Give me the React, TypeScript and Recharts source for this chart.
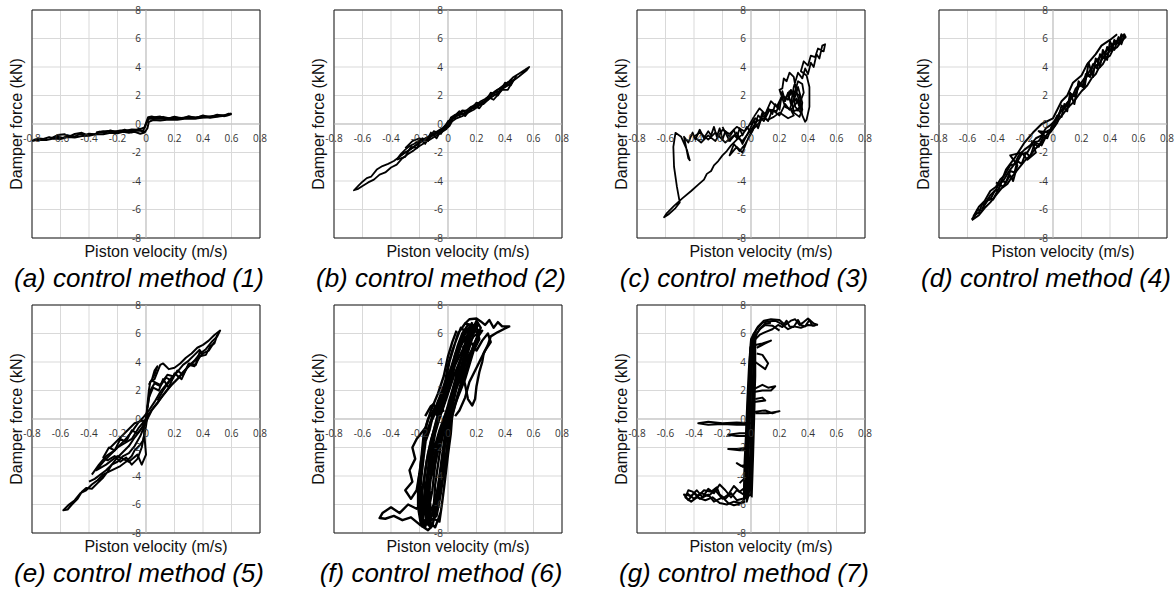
import React from 'react';
import { LineChart, Line, XAxis, YAxis, CartesianGrid, ReferenceLine, ReferenceArea } from 'recharts';

type Pt = [number, number];

// tick labels
const V_TICKS = [-0.8, -0.6, -0.4, -0.2, 0, 0.2, 0.4, 0.6, 0.8];
const F_TICKS = [-8, -6, -4, -2, 0, 2, 4, 6, 8];

// piston velocity (m/s), damper force (kN) traces
const methodA: Pt[][] = [
  [[-0.79, -1.12], [-0.75, -1.02], [-0.72, -1.05], [-0.68, -0.92], [-0.65, -1.0], [-0.62, -0.9], [-0.58, -0.98], [-0.55, -0.8], [-0.5, -0.88], [-0.47, -0.72], [-0.43, -0.78], [-0.4, -0.68], [-0.36, -0.72], [-0.33, -0.55], [-0.3, -0.6], [-0.27, -0.5], [-0.22, -0.55], [-0.18, -0.45], [-0.14, -0.48], [-0.1, -0.38], [-0.06, -0.4], [-0.03, -0.32], [-0.01, -0.25], [0.005, 0.2], [0.015, 0.48], [0.04, 0.52], [0.08, 0.42], [0.12, 0.5], [0.16, 0.4], [0.2, 0.48], [0.25, 0.42], [0.3, 0.5], [0.35, 0.46], [0.4, 0.55], [0.45, 0.52], [0.5, 0.62], [0.55, 0.6], [0.58, 0.72], [0.6, 0.7]],
  [[0.6, 0.7], [0.57, 0.6], [0.52, 0.55], [0.46, 0.45], [0.4, 0.45], [0.34, 0.36], [0.28, 0.38], [0.22, 0.3], [0.16, 0.32], [0.1, 0.25], [0.05, 0.28], [0.02, 0.15], [0.01, -0.3], [-0.01, -0.6], [-0.04, -0.68], [-0.08, -0.55], [-0.12, -0.62], [-0.16, -0.55], [-0.2, -0.65], [-0.25, -0.62], [-0.3, -0.72], [-0.35, -0.7], [-0.4, -0.82], [-0.45, -0.85], [-0.5, -0.95], [-0.55, -0.92], [-0.6, -1.05], [-0.65, -1.02], [-0.7, -1.12], [-0.75, -1.1], [-0.8, -1.18]],
  [[-0.35, -0.6], [-0.3, -0.5], [-0.2, -0.52], [-0.1, -0.45], [-0.02, -0.48], [0.0, 0.0], [0.02, 0.38], [0.1, 0.36], [0.2, 0.4], [0.3, 0.42], [0.4, 0.48], [0.5, 0.55], [0.58, 0.65]],
  [[-0.66, -0.98], [-0.62, -0.78], [-0.57, -0.72], [-0.54, -0.88], [-0.5, -0.7], [-0.45, -0.62], [-0.42, -0.75]],
  [[0.02, 0.42], [0.1, 0.52], [0.15, 0.36], [0.2, 0.52], [0.25, 0.36], [0.3, 0.55], [0.35, 0.4], [0.4, 0.6], [0.45, 0.45], [0.5, 0.65], [0.55, 0.55], [0.6, 0.75]],
  [[-0.3, -0.65], [-0.25, -0.45], [-0.2, -0.6], [-0.15, -0.4], [-0.1, -0.58], [-0.05, -0.35], [-0.02, -0.58], [0.0, -0.5]],
];

const methodB: Pt[][] = [
  [[0, 0], [0.02, 0.45], [0.05, 0.65], [0.08, 0.6], [0.1, 0.85], [0.13, 0.95], [0.16, 1.2], [0.2, 1.35], [0.23, 1.6], [0.26, 1.75], [0.3, 2.05], [0.33, 2.3], [0.36, 2.5], [0.4, 2.8], [0.43, 3.0], [0.46, 3.3], [0.5, 3.55], [0.54, 3.8], [0.57, 4.0], [0.55, 3.75], [0.5, 3.35], [0.46, 3.05], [0.42, 2.7], [0.38, 2.45], [0.34, 2.1], [0.3, 1.85], [0.26, 1.5], [0.22, 1.3], [0.18, 1.0], [0.14, 0.8], [0.1, 0.55], [0.06, 0.4], [0.03, 0.2], [0.01, -0.15], [-0.02, -0.4], [-0.06, -0.55], [-0.1, -0.75], [-0.14, -0.95], [-0.18, -1.2], [-0.22, -1.45], [-0.26, -1.75], [-0.3, -2.0], [-0.34, -2.3], [-0.38, -2.6], [-0.42, -2.8], [-0.46, -2.95], [-0.5, -3.2], [-0.54, -3.7], [-0.57, -3.8], [-0.6, -4.05], [-0.63, -4.35], [-0.66, -4.65], [-0.63, -4.55], [-0.6, -4.35], [-0.56, -4.1], [-0.52, -3.9], [-0.48, -3.55], [-0.44, -3.4], [-0.4, -3.05], [-0.36, -2.85], [-0.32, -2.4], [-0.28, -2.1], [-0.24, -1.85], [-0.2, -1.55], [-0.16, -1.3], [-0.12, -1.05], [-0.08, -0.8], [-0.04, -0.55], [-0.01, -0.35], [0.01, 0.1], [0.04, 0.5]],
  [[0.04, 0.5], [0.08, 0.75], [0.12, 0.7], [0.16, 1.05], [0.2, 1.2], [0.24, 1.55], [0.28, 1.7], [0.32, 2.15], [0.36, 2.3], [0.4, 2.65], [0.44, 2.85], [0.46, 3.1], [0.42, 2.9], [0.38, 2.55], [0.34, 2.35], [0.3, 1.95], [0.26, 1.65], [0.22, 1.4], [0.18, 1.15], [0.14, 0.9], [0.1, 0.7], [0.06, 0.55], [0.02, 0.3], [0, -0.2], [-0.04, -0.45], [-0.08, -0.65], [-0.12, -0.9], [-0.16, -1.1], [-0.2, -1.3], [-0.24, -1.6], [-0.28, -1.9], [-0.32, -2.1], [-0.35, -2.35], [-0.33, -2.1], [-0.3, -1.8], [-0.27, -1.55], [-0.24, -1.4], [-0.2, -1.15], [-0.16, -1.0], [-0.12, -0.8], [-0.08, -0.55], [-0.05, -0.35], [-0.02, -0.3], [0, 0]],
  [[-0.3, -1.7], [-0.25, -1.2], [-0.2, -1.0], [-0.16, -1.4], [-0.12, -0.6], [-0.08, -1.0], [-0.04, -0.3], [0.02, 0.3], [0.08, 0.9], [0.12, 0.55], [0.18, 1.3], [0.22, 1.1], [0.28, 1.9], [0.32, 1.7], [0.38, 2.4], [0.42, 2.4], [0.45, 2.95]],
  [[-0.36, -2.5], [-0.3, -2.3], [-0.26, -1.6], [-0.22, -1.7], [-0.18, -1.0], [-0.14, -1.2], [-0.1, -0.5], [-0.05, -0.7], [0.0, 0.2], [0.05, 0.45], [0.1, 0.95], [0.15, 0.9], [0.2, 1.5], [0.25, 1.4], [0.3, 2.2], [0.35, 2.0], [0.4, 2.9], [0.44, 2.7], [0.48, 3.4]],
];

const methodC: Pt[][] = [
  [[0, -0.1], [0.03, 0.4], [0.06, 0.2], [0.08, 0.8], [0.1, 0.5], [0.12, 1.1], [0.15, 0.7], [0.17, 1.4], [0.2, 1.0], [0.22, 2.3], [0.24, 1.6], [0.26, 2.2], [0.28, 1.4], [0.3, 2.6], [0.33, 3.6], [0.36, 3.2], [0.38, 3.9], [0.4, 3.5], [0.42, 4.3], [0.44, 4.0], [0.46, 4.9], [0.48, 4.6], [0.5, 5.5], [0.52, 5.6], [0.51, 5.1], [0.47, 5.3], [0.45, 4.7], [0.42, 4.8], [0.4, 4.1], [0.37, 4.4], [0.35, 3.7], [0.39, 3.4], [0.41, 2.6], [0.41, 1.2], [0.39, 0.3], [0.38, 0.15], [0.36, 0.6], [0.34, 1.6], [0.32, 2.2], [0.3, 3.3], [0.27, 3.6], [0.25, 3.0], [0.23, 3.2], [0.22, 2.5], [0.2, 2.4], [0.24, 1.2], [0.3, 0.9], [0.35, 1.1], [0.33, 1.6], [0.28, 1.0], [0.3, 0.6], [0.26, 0.4], [0.2, 0.8], [0.16, 0.5], [0.12, 0.3], [0.08, 0.4], [0.05, 0.0], [0.02, -0.3], [0, -0.6], [-0.03, -0.2], [-0.06, -0.8], [-0.08, -0.3], [-0.1, -1.0], [-0.12, -0.4], [-0.15, -0.9], [-0.18, -0.5], [-0.2, -1.1], [-0.22, -0.3], [-0.24, -0.9], [-0.26, -0.2], [-0.28, -0.8], [-0.3, -0.5], [-0.33, -1.0], [-0.36, -0.4], [-0.39, -1.1], [-0.41, -0.6], [-0.44, -1.3], [-0.47, -0.9], [-0.44, -2.4], [-0.43, -2.55], [-0.45, -1.8], [-0.49, -0.9], [-0.53, -0.62], [-0.545, -1.6], [-0.54, -3.0], [-0.52, -4.4], [-0.5, -5.5], [-0.53, -5.9], [-0.58, -6.35], [-0.61, -6.55], [-0.59, -6.25], [-0.54, -5.75], [-0.48, -5.2], [-0.42, -4.7], [-0.37, -4.25], [-0.33, -3.9], [-0.31, -3.5], [-0.28, -3.3], [-0.26, -2.9], [-0.23, -2.6], [-0.2, -2.2], [-0.17, -1.9], [-0.14, -1.5], [-0.11, -1.2], [-0.08, -0.9], [-0.05, -0.6], [-0.02, -0.2], [0.02, 0.5]],
  [[0.02, 0.5], [0.06, 1.1], [0.1, 0.7], [0.14, 1.6], [0.18, 1.2], [0.22, 2.0], [0.26, 1.7], [0.28, 2.4], [0.31, 1.9], [0.33, 2.6], [0.36, 1.5], [0.35, 0.8], [0.31, 1.2], [0.3, 2.0], [0.27, 2.3], [0.25, 1.9], [0.21, 1.8], [0.18, 0.9], [0.13, 1.0], [0.09, 0.2], [0.05, 0.6], [0.01, -0.5], [-0.04, -1.4], [-0.08, -1.9], [-0.12, -1.4], [-0.15, -2.2], [-0.1, -1.6], [-0.06, -2.0], [-0.02, -1.0], [0.02, -0.2]],
  [[-0.05, -0.5], [-0.1, -0.2], [-0.15, -0.7], [-0.2, -0.4], [-0.25, -1.2], [-0.3, -0.8], [-0.35, -1.3], [-0.4, -0.9], [-0.36, -0.6], [-0.3, -1.1], [-0.25, -0.6], [-0.18, -1.3], [-0.12, -0.8], [-0.06, -1.2], [0.0, -0.4], [0.05, 0.3]],
  [[-0.2, -0.2], [-0.15, -1.2], [-0.1, -0.6], [-0.06, -1.4], [-0.02, -0.6], [0.02, 0.2], [0.05, -0.3], [0.08, 0.6], [0.12, 0.2], [0.15, 1.0], [0.2, 0.6], [0.24, 1.4], [0.27, 1.0], [0.3, 1.8], [0.34, 1.4], [0.37, 2.2], [0.36, 2.8], [0.33, 3.0], [0.3, 2.0]],
  [[0.26, 1.9], [0.3, 2.3], [0.34, 2.0], [0.36, 1.0], [0.34, 0.5], [0.3, 0.8], [0.29, 1.5], [0.32, 1.8], [0.34, 1.2], [0.32, 0.9]],
];

const methodD: Pt[][] = [
  [[-0.57, -6.7], [-0.55, -6.4], [-0.52, -6.2], [-0.5, -5.7], [-0.47, -5.5], [-0.44, -5.0], [-0.4, -4.6], [-0.38, -4.2], [-0.35, -4.0], [-0.32, -3.5], [-0.3, -3.2], [-0.27, -2.8], [-0.24, -2.2], [-0.2, -1.8], [-0.16, -1.5], [-0.12, -1.0], [-0.08, -0.8], [-0.05, -0.3], [-0.02, -0.1], [0.02, 0.3], [0.05, 0.8], [0.08, 1.2], [0.1, 1.5], [0.13, 1.8], [0.16, 2.5], [0.2, 2.9], [0.22, 3.2], [0.25, 3.6], [0.28, 4.1], [0.3, 4.4], [0.33, 4.7], [0.36, 5.0], [0.4, 5.4], [0.43, 5.7], [0.46, 5.9], [0.5, 6.3], [0.51, 6.1], [0.48, 5.8], [0.45, 5.4], [0.42, 5.2], [0.4, 4.8], [0.37, 4.6], [0.35, 4.2], [0.32, 3.9], [0.3, 3.5], [0.27, 3.2], [0.24, 2.7], [0.2, 2.3], [0.17, 1.9], [0.14, 1.5], [0.1, 1.1], [0.07, 0.7], [0.04, 0.3], [0.0, -0.3], [-0.04, -0.7], [-0.08, -1.3], [-0.12, -1.7], [-0.16, -2.2], [-0.2, -2.6], [-0.24, -3.1], [-0.28, -3.6], [-0.32, -4.2], [-0.36, -4.5], [-0.4, -5.0], [-0.44, -5.5], [-0.48, -5.9], [-0.52, -6.4], [-0.57, -6.75]],
  [[-0.4, -4.1], [-0.35, -4.4], [-0.3, -3.6], [-0.28, -4.0], [-0.25, -2.9], [-0.3, -2.2], [-0.22, -2.0], [-0.18, -2.5], [-0.12, -2.0], [-0.15, -1.2], [-0.08, -1.5], [-0.05, -0.9], [-0.1, -0.5], [-0.02, -0.6], [0.03, 0.1], [0.06, 1.3], [0.1, 0.9], [0.12, 2.2], [0.15, 1.4], [0.18, 3.0], [0.22, 2.5], [0.25, 4.3], [0.28, 3.3], [0.3, 4.6], [0.33, 4.0], [0.35, 5.2], [0.38, 4.5], [0.4, 5.8], [0.43, 5.2], [0.46, 6.1], [0.48, 5.6], [0.5, 6.2]],
  [[-0.5, -6.0], [-0.45, -5.2], [-0.42, -5.3], [-0.38, -4.5], [-0.33, -3.2], [-0.27, -2.4], [-0.2, -1.3], [-0.14, -0.6], [-0.08, 0.0], [0.0, 0.4], [0.06, 1.6], [0.1, 2.0], [0.14, 2.9], [0.2, 3.4], [0.24, 4.2], [0.3, 4.9], [0.34, 5.5], [0.4, 5.9], [0.45, 6.3]],
  [[-0.55, -6.5], [-0.53, -6.0], [-0.5, -6.1], [-0.47, -5.4], [-0.44, -5.3], [-0.41, -4.7], [-0.38, -4.6], [-0.36, -4.0], [-0.33, -4.1], [-0.3, -3.3], [-0.27, -3.4], [-0.25, -2.6], [-0.22, -2.8], [-0.19, -2.0], [-0.16, -2.3], [-0.13, -1.4], [-0.1, -1.6], [-0.07, -0.9], [-0.04, -1.0], [-0.01, -0.2], [0.03, 0.6], [0.06, 0.5], [0.08, 1.4], [0.11, 1.2], [0.13, 2.1], [0.16, 1.9], [0.18, 2.8], [0.21, 2.6], [0.23, 3.5], [0.26, 3.3], [0.28, 4.2], [0.31, 3.9], [0.33, 4.9], [0.36, 4.6], [0.38, 5.4], [0.41, 5.1], [0.43, 5.9], [0.46, 5.6], [0.48, 6.3], [0.5, 6.0]],
  [[0.49, 6.0], [0.45, 5.8], [0.42, 5.5], [0.39, 5.0], [0.36, 4.8], [0.33, 4.3], [0.3, 4.1], [0.27, 3.5], [0.24, 3.4], [0.21, 2.8], [0.18, 2.6], [0.15, 2.0], [0.12, 1.8], [0.09, 1.2], [0.05, 0.9], [0.02, 0.2], [-0.02, -0.4], [-0.06, -0.6], [-0.1, -1.2], [-0.14, -1.3], [-0.18, -2.0], [-0.22, -2.1], [-0.26, -2.8], [-0.3, -2.9], [-0.34, -3.6], [-0.37, -3.9], [-0.4, -4.4], [-0.44, -4.7], [-0.48, -5.4], [-0.52, -5.8], [-0.56, -6.5]],
];

const methodE: Pt[][] = [
  [[0, 0], [0.01, 1.0], [0.02, 2.0], [0.03, 2.6], [0.06, 2.8], [0.08, 3.3], [0.1, 3.8], [0.12, 3.9], [0.14, 3.7], [0.16, 3.5], [0.2, 3.6], [0.24, 3.9], [0.28, 4.3], [0.32, 4.6], [0.36, 5.0], [0.4, 5.2], [0.44, 5.5], [0.48, 5.9], [0.52, 6.2], [0.5, 5.8], [0.46, 5.4], [0.42, 4.9], [0.38, 4.6], [0.34, 4.1], [0.3, 3.7], [0.26, 3.3], [0.22, 2.8], [0.18, 2.4], [0.14, 1.9], [0.1, 1.4], [0.06, 0.9], [0.03, 0.5], [0.01, 0.2], [0, -0.5], [-0.01, -1.0], [-0.02, -1.5], [-0.04, -1.8], [-0.08, -2.2], [-0.1, -2.6], [-0.14, -3.0], [-0.18, -3.3], [-0.22, -3.5], [-0.26, -3.7], [-0.3, -3.9], [-0.34, -4.3], [-0.38, -4.6], [-0.42, -5.0], [-0.46, -5.2], [-0.5, -5.7], [-0.54, -6.0], [-0.58, -6.4], [-0.55, -6.35], [-0.52, -6.0], [-0.48, -5.6], [-0.45, -5.1], [-0.42, -4.85], [-0.38, -4.9], [-0.34, -4.5], [-0.3, -4.1], [-0.27, -3.7], [-0.24, -3.2], [-0.2, -2.7], [-0.16, -2.3], [-0.12, -1.9], [-0.08, -1.3], [-0.04, -0.8], [-0.01, -0.3], [0.01, 0.5]],
  [[-0.25, -2.0], [-0.15, -1.0], [-0.08, -0.3], [-0.02, -0.1], [0.0, -2.5], [-0.03, -3.2], [-0.06, -2.5], [-0.12, -3.0], [-0.2, -2.6], [-0.28, -3.2], [-0.35, -3.6], [-0.3, -3.0], [-0.2, -2.0], [-0.1, -1.4], [-0.05, -0.6], [0, 0], [0.02, 1.5], [0.05, 2.2], [0.09, 2.0], [0.12, 2.8], [0.16, 2.2], [0.2, 3.2], [0.25, 2.8], [0.3, 3.9], [0.35, 3.8], [0.38, 4.8], [0.4, 4.5]],
  [[-0.38, -3.9], [-0.33, -3.2], [-0.28, -2.6], [-0.22, -2.2], [-0.16, -1.6], [-0.1, -0.9], [-0.05, -0.2], [-0.02, 0.1], [0.02, 0.6], [0.06, 1.2], [0.1, 1.9], [0.14, 2.4], [0.18, 2.9], [0.22, 3.3], [0.26, 3.8], [0.3, 4.1], [0.34, 4.5], [0.38, 4.9]],
  [[0.02, 2.4], [0.06, 3.1], [0.08, 3.7], [0.06, 3.4], [0.04, 2.7], [0.1, 2.4], [0.15, 3.1], [0.19, 3.0], [0.12, 2.0], [0.08, 1.3]],
  [[0.01, 0.8], [0.03, 2.0], [0.06, 2.5], [0.1, 2.3], [0.14, 2.9], [0.18, 2.7], [0.22, 3.4], [0.26, 3.1], [0.3, 3.8], [0.34, 3.7], [0.38, 4.4], [0.42, 4.5], [0.45, 5.1], [0.48, 5.3], [0.5, 5.9]],
  [[0.48, 5.4], [0.44, 4.8], [0.4, 4.6], [0.36, 4.2], [0.32, 3.9], [0.28, 3.5], [0.24, 3.0], [0.2, 2.6], [0.16, 2.2], [0.12, 1.7], [0.08, 1.1], [0.04, 0.6], [0.0, -0.2], [-0.04, -1.2], [-0.08, -1.9], [-0.12, -2.4], [-0.16, -2.6], [-0.2, -3.0], [-0.24, -3.2], [-0.28, -3.6], [-0.32, -3.9], [-0.36, -4.2], [-0.4, -4.4]],
  [[-0.02, -0.5], [-0.06, -1.0], [-0.1, -0.8], [-0.14, -1.6], [-0.18, -1.4], [-0.22, -2.2], [-0.26, -2.0], [-0.3, -2.7], [-0.27, -2.9], [-0.22, -2.6], [-0.18, -3.0], [-0.14, -2.7], [-0.1, -3.2], [-0.06, -2.8], [-0.03, -2.0], [-0.01, -1.0]],
];

const methodF: Pt[][] = [
  [[-0.17, -7.5], [-0.2, -6.5], [-0.21, -5], [-0.19, -3], [-0.17, -1], [-0.14, 0], [-0.08, 1], [-0.04, 2], [-0.01, 3], [0.01, 4], [0.04, 5], [0.07, 6], [0.12, 6.7], [0.2, 6.5], [0.22, 5.6], [0.18, 4.8], [0.15, 3.8], [0.12, 2.8], [0.08, 1.8], [0.04, 0.8], [0.02, -0.2], [0.0, -1.5], [-0.01, -3], [-0.03, -5], [-0.05, -6.5], [-0.09, -7.6], [-0.13, -7.2], [-0.15, -6], [-0.17, -4.5], [-0.15, -3], [-0.12, -1.5], [-0.09, -0.5], [-0.05, 0.8], [-0.02, 2], [0.02, 3.2], [0.05, 4.5], [0.1, 5.8], [0.16, 6.6], [0.22, 6.2], [0.19, 5.2], [0.13, 4.2], [0.1, 3.2], [0.06, 2.2], [0.01, 1], [-0.03, 0], [-0.06, -1.5], [-0.09, -3.2], [-0.11, -5], [-0.14, -6.6], [-0.16, -7.6], [-0.19, -7], [-0.18, -5.5], [-0.2, -4], [-0.18, -2.2], [-0.13, -0.8], [-0.1, 0.5], [-0.06, 1.5], [-0.02, 2.6], [0.0, 3.8], [0.03, 4.8], [0.06, 5.6], [0.09, 6.4], [0.14, 6.0], [0.12, 5.0], [0.08, 4.0], [0.04, 3.0], [0.0, 1.8], [-0.04, 0.6], [-0.09, -0.6], [-0.12, -2.0], [-0.14, -3.8], [-0.16, -5.5], [-0.18, -7.2], [-0.11, -7.5], [-0.08, -6.2], [-0.06, -4.5], [-0.04, -2.8], [-0.01, -1.2], [0.02, 0.2], [0.06, 1.4], [0.09, 2.5], [0.13, 3.6], [0.16, 4.6], [0.2, 5.6], [0.24, 6.2], [0.18, 5.8], [0.14, 5.2], [0.11, 4.0], [0.07, 3.0], [0.05, 2.0], [0.02, 1.0], [0.0, 0.0], [-0.02, -1.0], [-0.04, -2.5], [-0.06, -4.0], [-0.08, -5.5], [-0.1, -7.0], [-0.06, -7.2], [-0.04, -5.8], [-0.02, -4.2], [0.0, -2.5], [0.02, -1.0], [0.03, 0.3], [0.07, 1.8], [0.11, 3.0], [0.15, 4.2], [0.18, 5.2], [0.22, 6.0], [0.16, 6.3], [0.11, 5.5], [0.06, 4.6], [0.02, 3.5], [-0.02, 2.3], [-0.06, 1.2], [-0.11, 0.2], [-0.15, -1.0], [-0.17, -2.6], [-0.19, -4.4], [-0.2, -6.0], [-0.17, -7.3], [-0.12, -6.8], [-0.13, -5.0], [-0.12, -3.5], [-0.08, -2.0], [-0.05, -0.8], [-0.01, 0.6], [0.03, 2.0], [0.07, 3.4], [0.1, 4.6], [0.13, 5.6], [0.17, 6.8]],
  [[-0.19, -7.2], [-0.16, -6.0], [-0.14, -4.8], [-0.1, -3.5], [-0.07, -2.2], [-0.04, -1.0], [0.0, 0.2], [0.04, 1.5], [0.08, 2.8], [0.12, 4.0], [0.15, 5.0], [0.18, 6.0], [0.21, 6.6], [0.17, 6.1], [0.13, 5.4], [0.09, 4.6], [0.05, 3.8], [0.01, 2.8], [-0.03, 1.8], [-0.07, 0.8], [-0.12, -0.2], [-0.16, -1.4], [-0.19, -3.0], [-0.21, -4.6], [-0.21, -6.2], [-0.19, -7.4], [-0.15, -7.0], [-0.1, -6.0], [-0.07, -4.8], [-0.05, -3.5], [-0.03, -2.0], [0.0, -0.6], [0.03, 0.8], [0.06, 2.2], [0.09, 3.6], [0.12, 4.8], [0.15, 5.8], [0.19, 6.6], [0.14, 6.6], [0.1, 6.0], [0.07, 5.2], [0.04, 4.2], [0.01, 3.2], [-0.02, 2.0], [-0.05, 1.0], [-0.08, 0.0], [-0.11, -1.2], [-0.13, -2.8], [-0.15, -4.2], [-0.17, -5.8], [-0.15, -7.4], [-0.08, -6.8], [-0.05, -5.2], [-0.03, -3.8], [-0.01, -2.2], [0.01, -0.6], [0.04, 0.6], [0.08, 2.0], [0.12, 3.3], [0.15, 4.4], [0.19, 5.4], [0.23, 6.4], [0.2, 6.9], [0.16, 6.0], [0.13, 4.9], [0.1, 3.9], [0.07, 2.8], [0.04, 1.6], [0.0, 0.4], [-0.04, -0.6], [-0.08, -1.8], [-0.11, -3.4], [-0.13, -4.8], [-0.14, -6.2], [-0.12, -7.6], [-0.2, -6.8], [-0.2, -5.2], [-0.19, -3.6], [-0.17, -1.8], [-0.15, -0.4], [-0.12, 0.6], [-0.07, 1.8], [-0.03, 3.0], [0.0, 4.4], [0.03, 5.4], [0.06, 6.2]],
  [[-0.18, -7.6], [-0.17, -6.4], [-0.18, -5.0], [-0.16, -3.6], [-0.14, -2.4], [-0.11, -1.2], [-0.07, -0.2], [-0.04, 0.9], [0.0, 2.2], [0.03, 3.4], [0.07, 4.5], [0.1, 5.4], [0.13, 6.3], [0.18, 6.4], [0.15, 5.5], [0.12, 4.5], [0.09, 3.4], [0.06, 2.4], [0.02, 1.3], [-0.02, 0.3], [-0.06, -0.8], [-0.1, -2.2], [-0.13, -3.6], [-0.15, -5.0], [-0.16, -6.6], [-0.13, -7.4], [-0.1, -6.2], [-0.09, -4.6], [-0.07, -3.2], [-0.05, -1.8], [-0.02, -0.4], [0.01, 1.2], [0.05, 2.6], [0.08, 3.8], [0.11, 4.9], [0.14, 5.9], [0.17, 6.5], [0.12, 6.0], [0.08, 5.0], [0.05, 4.0], [0.03, 2.8], [-0.01, 1.6], [-0.05, 0.4], [-0.09, -1.0], [-0.12, -2.6], [-0.14, -4.4], [-0.15, -6.0], [-0.14, -7.2], [-0.07, -6.2], [-0.05, -4.6], [-0.03, -3.0], [-0.02, -1.6], [0.01, -0.2], [0.03, 1.4], [0.06, 3.0], [0.09, 4.2], [0.13, 5.2], [0.17, 6.2], [0.21, 6.8]],
  [[0.12, 6.7], [0.15, 7.0], [0.2, 7.05], [0.23, 6.85], [0.26, 6.6], [0.29, 6.95], [0.32, 6.4], [0.35, 6.8], [0.38, 6.5], [0.43, 6.5], [0.4, 6.35], [0.35, 6.1], [0.3, 5.8], [0.28, 5.2], [0.25, 4.6], [0.24, 4.0], [0.22, 3.3], [0.2, 2.3], [0.19, 1.4], [0.17, 0.95], [0.14, 1.4], [0.12, 2.4], [0.1, 3.2]],
  [[0.1, 5.0], [0.16, 5.4], [0.2, 4.8], [0.24, 5.5], [0.28, 6.0], [0.3, 5.4], [0.26, 4.8], [0.23, 4.2], [0.2, 3.6], [0.15, 2.6], [0.12, 1.5], [0.08, 0.6], [0.05, 0.2]],
  [[-0.15, -5.8], [-0.22, -6.3], [-0.28, -6.0], [-0.34, -6.6], [-0.4, -6.2], [-0.46, -6.6], [-0.48, -6.95], [-0.44, -7.0], [-0.38, -6.8], [-0.32, -7.1], [-0.26, -6.9], [-0.2, -7.4], [-0.14, -7.8], [-0.1, -7.4]],
  [[-0.15, -0.5], [-0.22, -1.4], [-0.25, -2.0], [-0.23, -2.8], [-0.27, -3.6], [-0.25, -4.4], [-0.3, -5.0], [-0.26, -5.6], [-0.22, -5.0], [-0.2, -3.8]],
  [[-0.16, 0.2], [-0.12, 0.9], [-0.1, 1.05], [-0.08, 0.3], [-0.05, 1.0], [-0.03, 0.5]],
];

const methodG: Pt[][] = [
  [[0.46, 6.6], [0.43, 6.55], [0.41, 6.95], [0.38, 6.5], [0.35, 6.6], [0.33, 6.95], [0.3, 6.45], [0.27, 6.5], [0.25, 6.9], [0.22, 6.45], [0.19, 6.6], [0.15, 6.3], [0.1, 6.1], [0.06, 5.9], [0.03, 5.6], [0.02, 4.5], [0.01, 2.0], [0.0, -1.0], [-0.01, -3.5], [-0.02, -5.0], [-0.05, -5.3], [-0.1, -5.0], [-0.14, -5.5], [-0.18, -5.0], [-0.22, -4.6], [-0.26, -5.2], [-0.3, -4.9], [-0.34, -5.5], [-0.38, -5.0], [-0.42, -5.4], [-0.47, -5.3], [-0.44, -5.7], [-0.4, -5.2], [-0.36, -5.6], [-0.3, -5.3], [-0.26, -5.8], [-0.2, -5.5], [-0.16, -5.9], [-0.12, -6.05], [-0.08, -5.95], [-0.05, -5.7], [-0.03, -4.5], [-0.02, -2.0], [-0.01, 1.0], [0.0, 4.0], [0.01, 5.6], [0.04, 6.3], [0.08, 6.75], [0.12, 6.85], [0.17, 6.9], [0.21, 6.7], [0.26, 6.3], [0.3, 6.5], [0.35, 6.4], [0.4, 6.6], [0.45, 6.55]],
  [[0.2, 6.2], [0.15, 6.55], [0.1, 6.6], [0.06, 6.3], [0.03, 5.8], [0.0, 5.5], [-0.01, 3], [-0.02, 0], [-0.03, -3], [-0.04, -4.8], [-0.08, -5.1], [-0.12, -4.7], [-0.16, -5.3], [-0.2, -5.6], [-0.25, -5.0], [-0.3, -5.4], [-0.35, -5.2], [-0.4, -5.6], [-0.45, -5.2]],
  [[-0.03, -5.6], [-0.02, -3], [-0.01, 0], [0.0, 3], [0.01, 5.5], [0.03, 5.9], [0.03, 3], [0.02, 0], [0.01, -3], [0.0, -5.3], [-0.04, -5.5], [-0.035, -2], [-0.02, 1], [-0.01, 4], [0.0, 5.6], [0.02, 6.0], [0.02, 2], [0.005, -2], [-0.01, -5.0], [-0.05, -5.7], [-0.04, -3.5], [-0.03, -0.5], [-0.015, 2.5], [0.0, 5.0], [0.015, 5.8], [0.03, 4.5], [0.025, 1], [0.015, -2.5], [0.005, -5.5]],
  [[-0.05, -5.2], [-0.045, -3.0], [-0.035, -1.0], [-0.025, 1.5], [-0.015, 3.5], [-0.005, 5.0], [0.02, 5.7], [0.025, 3.8], [0.015, 1.5], [0.005, -1.0], [-0.005, -3.5], [-0.015, -5.3], [-0.03, -5.8], [-0.025, -3.8], [-0.015, -1.5], [-0.005, 0.8], [0.005, 3.2], [0.01, 4.8], [0.04, 6.0], [0.07, 6.4], [0.1, 6.7], [0.14, 6.75]],
  [[0.0, 5.3], [0.02, 6.0], [0.05, 6.5], [0.09, 6.9], [0.14, 7.0], [0.2, 6.95], [0.24, 6.6], [0.28, 6.9], [0.31, 7.0], [0.34, 6.6], [0.37, 6.8], [0.4, 7.05], [0.44, 6.7], [0.47, 6.6]],
  [[-0.02, -5.4], [-0.06, -5.6], [-0.1, -5.7], [-0.14, -5.2], [-0.18, -5.6], [-0.22, -5.3], [-0.24, -4.8], [-0.28, -5.1], [-0.33, -5.0], [-0.37, -5.4], [-0.41, -5.1], [-0.44, -5.0], [-0.46, -5.5], [-0.42, -5.8], [-0.38, -5.5], [-0.32, -5.7], [-0.27, -5.5], [-0.22, -5.9], [-0.17, -6.0], [-0.12, -5.8], [-0.07, -5.9], [-0.04, -5.8]],
  [[0.0, -0.3], [-0.1, -0.25], [-0.2, -0.3], [-0.3, -0.2], [-0.37, -0.3], [-0.3, -0.4], [-0.2, -0.35], [-0.1, -0.4], [-0.01, -0.4]],
  [[0.02, 2.1], [0.08, 2.4], [0.12, 2.2], [0.17, 2.3], [0.14, 2.0], [0.08, 2.0], [0.02, 1.9]],
  [[0.02, 0.5], [0.1, 0.6], [0.15, 0.4], [0.2, 0.55], [0.12, 0.4], [0.03, 0.4]],
  [[0.03, 5.2], [0.08, 5.3], [0.14, 5.5], [0.1, 5.3], [0.04, 5.0]],
  [[0.03, 4.0], [0.1, 3.5], [0.12, 3.9], [0.08, 4.5], [0.04, 4.6]],
  [[0.02, 1.2], [0.1, 1.3], [0.08, 1.5], [0.03, 1.4]],
  [[-0.01, -1.0], [-0.08, -1.0], [-0.16, -1.1], [-0.1, -1.2], [-0.02, -1.2]],
  [[-0.01, -2.0], [-0.1, -2.1], [-0.16, -2.1], [-0.08, -2.2], [-0.02, -2.2]],
  [[-0.02, -3.2], [-0.07, -3.3], [-0.1, -3.1], [-0.05, -3.4]],
  [[-0.02, -4.5], [-0.05, -4.2], [-0.08, -4.5]],
];

const PLOT = 228;
const PAD = 24;
const TICK_FONT = "'Open Sans', 'Liberation Sans', sans-serif";
const LABEL_FONT = "'Liberation Sans', Arial, sans-serif";

const xTick = (props: any) => (
  <text key={props.index} x={props.x} y={PAD + PLOT / 2 + 17.5} textAnchor="middle" fontSize={10} fill="#333" fontFamily={TICK_FONT}>
    {props.payload.value}
  </text>
);

const yTick = (props: any) => (
  <text key={props.index} x={PAD + PLOT / 2 - 5} y={props.y + 3.5} textAnchor="end" fontSize={10} fill="#333" fontFamily={TICK_FONT}>
    {props.payload.value}
  </text>
);

interface PanelProps {
  left: number;
  top: number;
  caption: string;
  strokes: Pt[][];
  lineWidth?: number;
}

const Panel: React.FC<PanelProps> = ({ left, top, caption, strokes, lineWidth = 1.8 }) => (
  <>
    <div style={{ position: 'absolute', left: left - PAD, top: top - PAD }}>
      <LineChart width={PLOT + 2 * PAD} height={PLOT + 2 * PAD} margin={{ top: PAD, right: PAD, bottom: PAD - 1, left: PAD - 1 }}>
        <CartesianGrid stroke="#d9d9d9" strokeWidth={1} />
        <XAxis type="number" dataKey="v" domain={[-0.8, 0.8]} ticks={V_TICKS} interval={0} height={1} axisLine={false} tickLine={false} tick={xTick} allowDataOverflow />
        <YAxis type="number" dataKey="f" domain={[-8, 8]} ticks={F_TICKS} interval={0} width={1} axisLine={false} tickLine={false} tick={yTick} allowDataOverflow />
        <ReferenceLine x={0} stroke="#bfbfbf" />
        <ReferenceLine y={0} stroke="#bfbfbf" />
        {strokes.map((s, i) => (
          <Line
            key={i}
            data={s.map(([v, f]) => ({ v, f }))}
            dataKey="f"
            type="linear"
            stroke="#000"
            strokeWidth={lineWidth}
            strokeLinejoin="round"
            dot={false}
            activeDot={false}
            isAnimationActive={false}
          />
        ))}
        <ReferenceArea x1={-0.8} x2={0.8} y1={-8} y2={8} fill="none" stroke="#1a1a1a" strokeWidth={1} />
      </LineChart>
    </div>
    <div style={{ position: 'absolute', left: left - 15 - 100, top: top + PLOT / 2 - 10, width: 200, height: 20, lineHeight: '20px', textAlign: 'center', transform: 'rotate(-90deg)', fontFamily: LABEL_FONT, fontSize: 16, color: '#111' }}>
      Damper force (kN)
    </div>
    <div style={{ position: 'absolute', left: left + 124 - 100, top: top + PLOT + 4, width: 200, height: 20, lineHeight: '20px', textAlign: 'center', fontFamily: LABEL_FONT, fontSize: 16, color: '#111' }}>
      Piston velocity (m/s)
    </div>
    <div style={{ position: 'absolute', left: left + 107 - 160, top: top + PLOT + 25, width: 320, height: 30, lineHeight: '30px', textAlign: 'center', fontFamily: LABEL_FONT, fontStyle: 'italic', fontSize: 26, color: '#000', whiteSpace: 'nowrap' }}>
      {caption}
    </div>
  </>
);

export default function App() {
  return (
    <div style={{ position: 'absolute', left: 0, top: 0, width: 1176, height: 591, background: '#fff', overflow: 'hidden' }}>
      <Panel left={32} top={10} caption="(a) control method (1)" strokes={methodA} lineWidth={2} />
      <Panel left={334} top={10} caption="(b) control method (2)" strokes={methodB} />
      <Panel left={637} top={10} caption="(c) control method (3)" strokes={methodC} />
      <Panel left={939} top={10} caption="(d) control method (4)" strokes={methodD} lineWidth={2} />
      <Panel left={32} top={305} caption="(e) control method (5)" strokes={methodE} lineWidth={2} />
      <Panel left={334} top={305} caption="(f) control method (6)" strokes={methodF} lineWidth={2.4} />
      <Panel left={637} top={305} caption="(g) control method (7)" strokes={methodG} lineWidth={2} />
    </div>
  );
}
